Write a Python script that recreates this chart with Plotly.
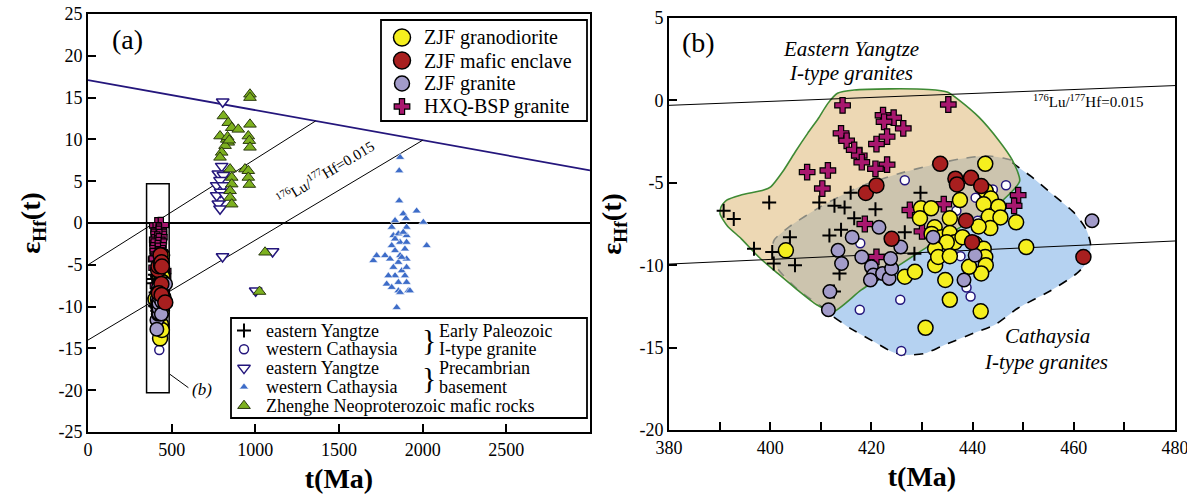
import plotly.graph_objects as go

W, H = 1187, 498
SERIF = "Liberation Serif, Times New Roman, serif"

# ---------------- zircon Hf isotope data: age t (Ma) and eHf(t) ----------------
# ZJF granodiorite
gd_age = [403.1, 426.6, 428.6, 430.7, 435.5, 434.6, 432.6, 441.6, 442.5, 448.6,
          450.6, 429.8, 431.8, 429.6, 432.5, 435.5, 437.5, 442.6, 443.6, 442.2,
          445.1, 443.2, 445.5, 443.5, 441.2, 431.9, 433.9, 435.5, 436.5, 434.9,
          432.6, 433.2, 435.5, 440.5, 442.2, 442.5, 442.6, 441.7, 439.3, 438.0]
gd_ehf = [-9.1, -10.7, -10.4, -13.8, -12.1, -10.9, -10.0, -12.8, -3.85, -7.4,
          -8.9, -6.55, -6.55, -7.15, -7.7, -7.15, -6.05, -5.5, -5.95, -6.3,
          -6.45, -7.05, -7.1, -7.75, -7.65, -8.1, -8.3, -8.05, -8.6, -8.6,
          -9.0, -9.5, -9.45, -8.7, -9.0, -9.5, -10.0, -10.5, -10.1, -8.3]

# ZJF mafic enclave
me_age = [418.9, 421.0, 433.6, 436.6, 436.9, 439.7, 441.7, 438.7, 424.0, 439.9, 461.9]
me_ehf = [-5.62, -5.16, -3.85, -4.75, -5.1, -4.7, -5.2, -7.3, -8.4, -8.6, -9.5]

# ZJF granite
gr_age = [463.6, 421.5, 416.2, 413.4, 414.1, 411.8, 411.5, 418.1, 420.0, 420.4,
          419.8, 422.2, 423.5, 424.0, 423.8, 425.8, 432.2, 438.3, 440.5]
gr_ehf = [-7.3, -7.7, -8.3, -9.1, -9.9, -11.6, -12.7, -9.5, -10.1, -10.6,
          -10.9, -10.5, -10.8, -10.2, -9.6, -8.9, -8.3, -10.9, -9.4]

# HXQ-BSP granite
hb_age = [414.3, 435.2, 422.3, 424.4, 422.5, 426.3, 414.0, 415.1, 423.1, 421.0,
          416.6, 417.6, 418.1, 423.1, 420.8, 407.3, 411.4, 410.3, 449.0, 448.2,
          434.3, 427.6, 418.7, 421.0, 430.0]
hb_ehf = [-0.3, -0.25, -0.9, -1.05, -1.3, -1.7, -2.0, -2.45, -2.2, -2.65,
          -3.0, -3.35, -3.75, -3.9, -4.15, -4.35, -4.25, -5.35, -5.75, -6.4,
          -6.3, -6.65, -7.5, -9.5, -7.95]

# Early Paleozoic I-type granites, eastern Yangtze
ey_age = [390.8, 392.8, 399.8, 396.8, 403.9, 400.7, 404.9, 400.4, 409.7, 412.7,
          414.7, 415.9, 416.6, 414.0, 411.7, 413.7, 420.8, 426.6, 428.5, 429.7, 412.6]
ey_ehf = [-6.7, -7.2, -6.2, -9.0, -8.3, -9.9, -10.0, -9.2, -6.2, -6.4,
          -6.5, -5.6, -7.15, -7.85, -8.2, -10.5, -6.6, -8.0, -9.3, -5.6, -11.6]

# Early Paleozoic I-type granites, western Cathaysia
wc_age = [426.6, 446.6, 440.6, 444.0, 417.8, 417.7, 425.7, 439.6, 438.8, 437.6,
          425.9, 441.0, 436.8]
wc_ehf = [-4.85, -5.15, -5.9, -5.4, -8.67, -12.7, -12.1, -11.9, -11.35, -9.45,
          -15.2, -7.3, -6.7]

# Precambrian basement, eastern Yangtze
eyb_age = [805, 1103, 1002, 804, 799, 779, 809, 789, 769, 809, 793, 769, 819, 779, 789]
eyb_ehf = [14.5, -3.4, -8.1, -4.0, 6.8, 5.9, 5.7, 5.1, 4.5, 4.5, 3.7, 3.3, 3.3, 2.3, 1.7]

# Precambrian basement, western Cathaysia
wcb_age = [1865, 1860, 1860, 1964, 2004, 2024, 1884, 1835, 1900, 1705,
           1725, 1775, 1845, 1855, 1914, 1815, 1825, 1855, 1904, 1904,
           1865, 1904, 1815, 1835, 1894, 1865, 1805, 1855, 1904, 1825,
           1875, 1904, 1835, 1855, 1904, 1785, 1815, 1894, 1875, 1795,
           1924, 1865, 1884, 1835]
wcb_ehf = [7.85, 6.25, 2.65, 1.45, 0.1, -2.7, 1.1, 0.3, 0.55, -4.5,
           -3.9, -3.9, -10.1, -8.1, -8.1, -0.5, -1.5, -1.3, -0.5, -1.5,
           -2.3, -2.3, -2.7, -3.3, -3.1, -3.9, -4.3, -4.7, -4.3, -5.3,
           -5.7, -5.3, -6.3, -7.1, -7.1, -7.3, -7.7, -6.3, -4.1, -6.3,
           -8.1, -8.3, -1.1, -1.9]

# Zhenghe Neoproterozoic mafic rocks
zh_age = [968, 968, 809, 838, 859, 898, 968, 789, 829, 838, 958, 964, 968, 819,
          799, 789, 849, 859, 859, 849, 849, 859, 938, 958, 958, 964, 1058, 1025,
          834, 844]
zh_ehf = [15.4, 15.0, 12.8, 12.0, 11.4, 11.2, 11.8, 10.4, 10.0, 9.65, 10.4, 9.85,
          9.05, 9.25, 8.45, 7.85, 6.45, 5.45, 4.65, 3.85, 3.05, 2.25, 6.45, 6.25,
          5.45, 4.6, -3.5, -8.2, 10.3, 9.9]

# ---------------- reference lines ----------------
dm_age = [0, 3000]            # depleted mantle
dm_ehf = [17.1, 6.3]
crust1_age = [0, 1360]        # 176Lu/177Hf = 0.015 crustal evolution
crust1_ehf = [-5.0, 12.2]
crust2_age = [0, 2000]
crust2_ehf = [-14.0, 9.9]
lub_age = [380, 480]          # the same evolution lines across panel (b)
lub_upper = [-0.3, 0.9]
lub_lower = [-9.93, -8.53]

# Eastern Yangtze I-type granite field (closed outline)
yz_field_age = [412.3, 409.2, 405.0, 401.5, 397.9, 394.3, 391.5, 390.1, 390.3, 391.4,
                394.1, 398.7, 400.1, 402.7, 405.0, 407.4, 409.5, 411.4, 413.3, 416.6,
                423.6, 431.3, 435.1, 437.2, 441.2, 445.1, 447.8, 449.3, 444.5, 437.8,
                431.0, 424.5, 418.0, 412.3]
yz_field_ehf = [-12.85, -12.4, -11.4, -10.5, -9.55, -8.4, -7.6, -6.9, -6.45, -6.05,
                -5.75, -5.44, -5.24, -4.22, -3.1, -2.0, -1.1, -0.18, 0.43, 0.63,
                0.7, 0.66, 0.5, 0.05, -1.0, -2.4, -3.6, -4.9, -6.45, -7.66,
                -8.9, -10.2, -11.5, -12.85]

# Cathaysia I-type granite field (closed outline, starting where it enters the Yangtze field)
cath_field_age = [447.6, 446.0, 442.7, 437.3, 432.8, 425.2, 417.5, 409.9, 403.8, 400.8,
                  400.3, 401.6, 405.4, 409.9, 412.2, 416.0, 420.6, 424.4, 427.4, 430.6,
                  434.0, 440.4, 444.5, 449.0, 455.4, 460.6, 462.9, 463.3, 462.5, 460.2,
                  456.0, 451.5, 448.0, 447.6]
cath_field_ehf = [-3.62, -3.5, -3.36, -3.56, -3.86, -4.46, -5.26, -6.46, -7.66, -8.46,
                  -9.26, -10.26, -11.46, -12.46, -13.06, -13.86, -14.66, -15.3, -15.45, -15.35,
                  -14.9, -14.1, -13.6, -12.6, -11.55, -10.5, -9.7, -8.7, -7.86, -6.86,
                  -5.75, -4.6, -3.8, -3.62]
CATH_INSIDE_END = 13          # outline points 0..13 lie inside the Yangtze field

# ---------------- tick labels ----------------
xa_ticks = [0, 500, 1000, 1500, 2000, 2500]
ya_ticks = [25, 20, 15, 10, 5, 0, -5, -10, -15, -20, -25]
xb_ticks = [380, 400, 420, 440, 460, 480]
yb_ticks = [5, 0, -5, -10, -15, -20]

# ---------------- styles ----------------
NAVY = "#24167C"
STY = {
    "ey": dict(symbol="cross-thin", size=10, color="black", line=dict(color="black", width=2)),
    "wc": dict(symbol="circle", size=9, color="white", line=dict(color=NAVY, width=1.5)),
    "hb": dict(symbol="cross", size=13, color="#A8176E", line=dict(color="black", width=1.2)),
    "gd": dict(symbol="circle", size=15, color="#F5EF1E", line=dict(color="black", width=1.5)),
    "gr": dict(symbol="circle", size=13.5, color="#A29BC9", line=dict(color="black", width=1.5)),
    "me": dict(symbol="circle", size=15, color="#A81F1F", line=dict(color="black", width=1.5)),
    "eyb": dict(symbol="triangle-down", size=11, color="white", line=dict(color=NAVY, width=1.5)),
    "wcb": dict(symbol="triangle-up", size=8, color="#3D6CC8", line=dict(color="white", width=0.6)),
    "zh": dict(symbol="triangle-up", size=11, color="#7DB11F", line=dict(color="#2B3A10", width=1)),
}

fig = go.Figure()

# ---- panel (b) fields ----
fig.add_trace(go.Scatter(x=cath_field_age, y=cath_field_ehf, xaxis="x2", yaxis="y2",
                         mode="lines", fill="toself", fillcolor="#B5D2F1",
                         line=dict(width=0, shape="spline", smoothing=0.6), hoverinfo="skip"))
fig.add_trace(go.Scatter(x=yz_field_age, y=yz_field_ehf, xaxis="x2", yaxis="y2",
                         mode="lines", fill="toself", fillcolor="rgba(222,184,119,0.55)",
                         line=dict(width=0, shape="spline", smoothing=0.6), hoverinfo="skip"))
fig.add_trace(go.Scatter(x=cath_field_age[:CATH_INSIDE_END + 1], y=cath_field_ehf[:CATH_INSIDE_END + 1],
                         xaxis="x2", yaxis="y2", mode="lines",
                         line=dict(color="#8A8A80", width=1.6, dash="dash", shape="spline", smoothing=0.6),
                         hoverinfo="skip"))
fig.add_trace(go.Scatter(x=cath_field_age[CATH_INSIDE_END:], y=cath_field_ehf[CATH_INSIDE_END:],
                         xaxis="x2", yaxis="y2", mode="lines",
                         line=dict(color="black", width=1.6, dash="dash", shape="spline", smoothing=0.6),
                         hoverinfo="skip"))
fig.add_trace(go.Scatter(x=yz_field_age, y=yz_field_ehf, xaxis="x2", yaxis="y2", mode="lines",
                         line=dict(color="#3E8A34", width=1.6, shape="spline", smoothing=0.6),
                         hoverinfo="skip"))

# ---- evolution lines ----
for xs, ys in [(lub_age, lub_upper), (lub_age, lub_lower)]:
    fig.add_trace(go.Scatter(x=xs, y=ys, xaxis="x2", yaxis="y2", mode="lines",
                             line=dict(color="black", width=1), hoverinfo="skip"))
fig.add_trace(go.Scatter(x=dm_age, y=dm_ehf, mode="lines", line=dict(color=NAVY, width=1.8), hoverinfo="skip"))
for xs, ys in [(crust1_age, crust1_ehf), (crust2_age, crust2_ehf)]:
    fig.add_trace(go.Scatter(x=xs, y=ys, mode="lines", line=dict(color="black", width=1), hoverinfo="skip"))

# ---- data points ----
panel_a_only = [("eyb", eyb_age, eyb_ehf), ("wcb", wcb_age, wcb_ehf), ("zh", zh_age, zh_ehf)]
shared = [("ey", ey_age, ey_ehf), ("wc", wc_age, wc_ehf), ("hb", hb_age, hb_ehf),
          ("gd", gd_age, gd_ehf), ("gr", gr_age, gr_ehf), ("me", me_age, me_ehf)]

for key, xs, ys in panel_a_only:
    fig.add_trace(go.Scatter(x=xs, y=ys, mode="markers", marker=STY[key], hoverinfo="skip"))
for axx, axy in [("x", "y"), ("x2", "y2")]:
    for key, xs, ys in shared:
        fig.add_trace(go.Scatter(x=xs, y=ys, xaxis=axx, yaxis=axy, mode="markers",
                                 marker=STY[key], hoverinfo="skip", cliponaxis=False))

# ---------------- legends (drawn on a pixel-space overlay axis) ----------------
LEG1 = dict(box=(381, 20, 587, 121), key_x=402, text_x=422, row0=37.5, step=23.0, size=20)
LEG2 = dict(box=(231, 318, 587, 418), key_x=244, text_x=264, row0=330.5, step=18.8, size=18,
            brace_x=429, group_x=437)
leg1_keys = ["gd", "me", "gr", "hb"]
leg1_labels = ["ZJF granodiorite", "ZJF mafic enclave", "ZJF granite", "HXQ-BSP granite"]
leg2_keys = ["ey", "wc", "eyb", "wcb", "zh"]
leg2_labels = ["eastern Yangtze", "western Cathaysia", "eastern Yangtze", "western Cathaysia",
               "Zhenghe Neoproterozoic mafic rocks"]
leg2_groups = [(0, "Early Paleozoic", "I-type granite"), (2, "Precambrian", "basement")]

annotations = []
shapes = []
for leg, keys, labels in [(LEG1, leg1_keys, leg1_labels), (LEG2, leg2_keys, leg2_labels)]:
    x0, y0, x1, y1 = leg["box"]
    shapes.append(dict(type="rect", xref="x3", yref="y3", x0=x0, y0=y0, x1=x1, y1=y1,
                       line=dict(color="black", width=1.8), layer="above"))
    for i, (k, lab) in enumerate(zip(keys, labels)):
        ry = leg["row0"] + i * leg["step"]
        mk = dict(STY[k])
        if k in ("gd", "me"):
            mk["size"] = 17
        if k == "gr":
            mk["size"] = 15
        fig.add_trace(go.Scatter(x=[leg["key_x"]], y=[ry], xaxis="x3", yaxis="y3", mode="markers",
                                 marker=mk, hoverinfo="skip", cliponaxis=False))
        annotations.append(dict(xref="x3", yref="y3", x=leg["text_x"], y=ry, text=lab,
                                showarrow=False, xanchor="left", yanchor="middle",
                                font=dict(family=SERIF, size=leg["size"], color="black")))
for row, g1, g2 in leg2_groups:
    ya = LEG2["row0"] + row * LEG2["step"]
    yb = ya + LEG2["step"]
    annotations.append(dict(xref="x3", yref="y3", x=LEG2["brace_x"], y=(ya + yb) / 2, text="}",
                            showarrow=False, xanchor="center", yanchor="middle",
                            font=dict(family=SERIF, size=30, color="black")))
    for yy, t in [(ya, g1), (yb, g2)]:
        annotations.append(dict(xref="x3", yref="y3", x=LEG2["group_x"], y=yy, text=t,
                                showarrow=False, xanchor="left", yanchor="middle",
                                font=dict(family=SERIF, size=LEG2["size"], color="black")))

# ---------------- text labels ----------------
lu_hf = "<sup>176</sup>Lu/<sup>177</sup>Hf=0.015"
annotations += [
    dict(xref="x3", yref="y3", x=127, y=39, text="(a)", showarrow=False,
         font=dict(family=SERIF, size=28, color="black")),
    dict(xref="x3", yref="y3", x=698, y=42, text="(b)", showarrow=False,
         font=dict(family=SERIF, size=28, color="black")),
    dict(xref="x", yref="y", x=1419, y=6.1, text=lu_hf, showarrow=False, textangle=-31,
         font=dict(family=SERIF, size=15, color="black")),
    dict(xref="x", yref="y", x=680, y=-19.9, text="<i>(b)</i>", showarrow=False,
         font=dict(family=SERIF, size=17, color="black")),
    dict(xref="x2", yref="y2", x=462.9, y=-0.05, text=lu_hf, showarrow=False,
         font=dict(family=SERIF, size=15, color="black")),
    dict(xref="x2", yref="y2", x=416.0, y=3.14, text="<i>Eastern Yangtze</i>", showarrow=False,
         font=dict(family=SERIF, size=21, color="black")),
    dict(xref="x2", yref="y2", x=416.0, y=1.64, text="<i>I-type granites</i>", showarrow=False,
         font=dict(family=SERIF, size=21, color="black")),
    dict(xref="x2", yref="y2", x=454.9, y=-14.3, text="<i>Cathaysia</i>", showarrow=False,
         font=dict(family=SERIF, size=21, color="black")),
    dict(xref="x2", yref="y2", x=454.5, y=-15.85, text="<i>I-type granites</i>", showarrow=False,
         font=dict(family=SERIF, size=21, color="black")),
]

# panel (a) zoom box and its pointer
shapes += [
    dict(type="rect", xref="x", yref="y", x0=350, x1=485, y0=-20.3, y1=4.7,
         line=dict(color="black", width=1.5), layer="below"),
    dict(type="line", xref="x", yref="y", x0=490, y0=-18.1, x1=600, y1=-19.7,
         line=dict(color="black", width=1)),
]

# ---------------- axes ----------------
tickfont = dict(family=SERIF, size=18, color="black")
titlefont = dict(family=SERIF, size=28, color="black")
common = dict(showline=True, linecolor="black", linewidth=1.8, mirror=True, ticks="inside",
              ticklen=8, tickwidth=1.5, tickcolor="black", tickfont=tickfont, showgrid=False,
              zeroline=False, fixedrange=True, automargin=False, ticklabeloverflow="allow")

fig.update_layout(
    width=W, height=H, margin=dict(l=0, r=0, t=0, b=0, autoexpand=False),
    paper_bgcolor="white", plot_bgcolor="rgba(0,0,0,0)", showlegend=False,
    xaxis=dict(common, domain=[88 / W, 590 / W], range=[0, 3000], anchor="y",
               tickvals=xa_ticks, ticktext=[str(v) for v in xa_ticks],
               title=dict(text="<b>t(Ma)</b>", font=titlefont, standoff=10)),
    yaxis=dict(common, domain=[1 - 432 / H, 1 - 14 / H], range=[-25, 25], anchor="x",
               tickvals=ya_ticks, ticktext=[str(v) for v in ya_ticks],
               zeroline=True, zerolinecolor="black", zerolinewidth=1.5,
               title=dict(text="<b>ε<sub>Hf</sub>(t)</b>", font=titlefont, standoff=10)),
    xaxis2=dict(common, domain=[669 / W, 1175 / W], range=[380, 480], anchor="y2",
                tickvals=xb_ticks, ticktext=[str(v) for v in xb_ticks],
                minor=dict(ticks="inside", dtick=10, ticklen=8, tickwidth=1.5, tickcolor="black"),
                title=dict(text="<b>t(Ma)</b>", font=titlefont, standoff=10)),
    yaxis2=dict(common, domain=[1 - 430 / H, 1 - 18 / H], range=[-20, 5], anchor="x2",
                tickvals=yb_ticks, ticktext=[str(v) for v in yb_ticks],
                title=dict(text="<b>ε<sub>Hf</sub>(t)</b>", font=titlefont, standoff=10)),
    xaxis3=dict(domain=[0, 1], range=[0, W], visible=False, fixedrange=True, anchor="y3"),
    yaxis3=dict(domain=[0, 1], range=[H, 0], visible=False, fixedrange=True, anchor="x3"),
    annotations=annotations, shapes=shapes,
)

fig.write_html("out.html")
